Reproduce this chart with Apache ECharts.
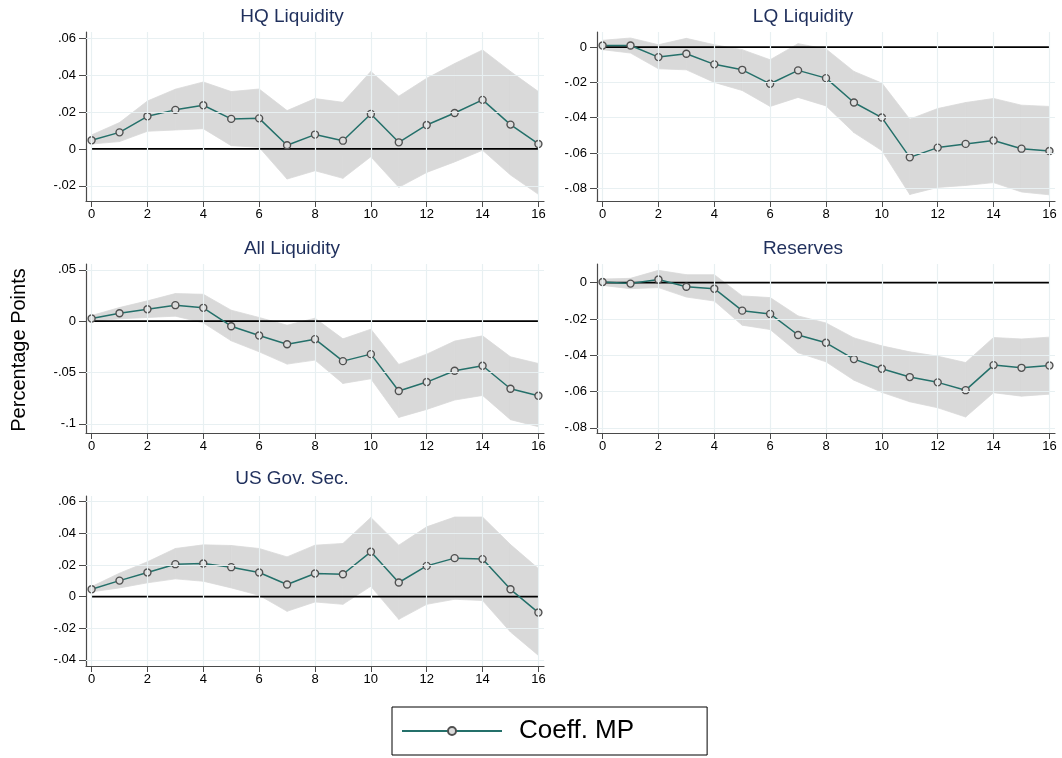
<!DOCTYPE html>
<html>
<head>
<meta charset="utf-8">
<script src="https://cdn.jsdelivr.net/npm/echarts@6/dist/echarts.min.js"></script>
<style>
html,body{margin:0;padding:0;background:#fff;}
#chart{width:1062px;height:758px;}
</style>
</head>
<body>
<div id="chart"></div>
<script>
// horizon (quarters)
var steps = [0,1,2,3,4,5,6,7,8,9,10,11,12,13,14,15,16];
var xTicks = [0,2,4,6,8,10,12,14,16];

// HQ Liquidity
var hqCoef  = [0.0047,0.009,0.0177,0.0212,0.0237,0.0163,0.0166,0.002,0.0078,0.0045,0.019,0.0036,0.013,0.0195,0.0266,0.0132,0.0027];
var hqUpper = [0.0076,0.0143,0.026,0.0324,0.0363,0.0311,0.0325,0.0208,0.0273,0.0253,0.042,0.0286,0.0383,0.0463,0.0537,0.042,0.0311];
var hqLower = [0.0027,0.004,0.0096,0.0103,0.011,0.0018,0.0009,-0.0163,-0.0118,-0.0159,-0.0042,-0.0208,-0.0127,-0.007,-0.0007,-0.0141,-0.0246];
var hqTicks = [-0.02,0,0.02,0.04,0.06];

// LQ Liquidity
var lqCoef  = [0.0009,0.0009,-0.0057,-0.0038,-0.0098,-0.0129,-0.0208,-0.0132,-0.0176,-0.0314,-0.0399,-0.0624,-0.0569,-0.0548,-0.0529,-0.0575,-0.0588];
var lqUpper = [0.0038,0.0051,0.0013,0.0049,0.0013,-0.0015,-0.0072,0.0019,-0.0011,-0.0138,-0.0204,-0.0408,-0.0348,-0.0314,-0.0291,-0.0329,-0.0336];
var lqLower = [-0.0015,-0.0034,-0.0123,-0.0129,-0.02,-0.0246,-0.0336,-0.0285,-0.0333,-0.0484,-0.0586,-0.0834,-0.0794,-0.0783,-0.0767,-0.082,-0.0836];
var lqTicks = [-0.08,-0.06,-0.04,-0.02,0];

// All Liquidity
var allCoef  = [0.0026,0.0078,0.0117,0.0156,0.013,-0.0049,-0.0139,-0.0224,-0.0175,-0.0389,-0.0321,-0.068,-0.0593,-0.0483,-0.0434,-0.0658,-0.0726];
var allUpper = [0.0055,0.0133,0.0198,0.0269,0.0262,0.0107,0.0036,-0.0039,0.0029,-0.0172,-0.0078,-0.0421,-0.0321,-0.0194,-0.0143,-0.0347,-0.0412];
var allLower = [0,0.0023,0.0036,0.0049,-0.0016,-0.0191,-0.0298,-0.0418,-0.0379,-0.0606,-0.0561,-0.0937,-0.0859,-0.0768,-0.0723,-0.0959,-0.1027];
var allTicks = [-0.1,-0.05,0,0.05];

// Reserves
var resCoef  = [0.0004,-0.0005,0.0018,-0.0022,-0.0033,-0.0154,-0.0172,-0.0288,-0.0331,-0.0421,-0.0474,-0.052,-0.0549,-0.0592,-0.0454,-0.0469,-0.0456];
var resUpper = [0.002,0.0024,0.0068,0.0044,0.0044,-0.0073,-0.0082,-0.0183,-0.0222,-0.0304,-0.0348,-0.0381,-0.0405,-0.044,-0.0302,-0.031,-0.03];
var resLower = [-0.0015,-0.0033,-0.0027,-0.0079,-0.0101,-0.0234,-0.0258,-0.0386,-0.0436,-0.0537,-0.0604,-0.0656,-0.0689,-0.074,-0.0606,-0.0625,-0.0614];
var resTicks = [-0.08,-0.06,-0.04,-0.02,0];

// US Gov. Sec.
var usCoef  = [0.0046,0.0101,0.0152,0.0205,0.0209,0.0186,0.0152,0.0076,0.0146,0.0141,0.0283,0.0089,0.0194,0.0243,0.0237,0.0046,-0.0101];
var usUpper = [0.0063,0.0148,0.022,0.0304,0.0327,0.0323,0.0304,0.0251,0.0325,0.0336,0.05,0.0325,0.0441,0.0503,0.0503,0.0329,0.0177];
var usLower = [0.003,0.0055,0.0087,0.0112,0.0097,0.0055,0.0008,-0.0093,-0.0034,-0.0049,0.0065,-0.0144,-0.0049,-0.0017,-0.0025,-0.0224,-0.0372];
var usTicks = [-0.04,-0.02,0,0.02,0.04,0.06];

var FONT = 'Liberation Sans, Arial, Helvetica, sans-serif';
var lineCol = '#24706a', bandCol = '#d9d9d9', gridCol = '#e8f0f2', axisCol = '#4a4a4a';

var panels = [
  {tit:'HQ Liquidity',  coef:hqCoef,  up:hqUpper,  lo:hqLower,  ticks:hqTicks,  ymin:-0.0282, ymax:0.0634, box:[86,32,458,169],  tx:292, ty:17},
  {tit:'LQ Liquidity',  coef:lqCoef,  up:lqUpper,  lo:lqLower,  ticks:lqTicks,  ymin:-0.0871, ymax:0.0085, box:[597,32,458,169], tx:803, ty:17},
  {tit:'All Liquidity', coef:allCoef, up:allUpper, lo:allLower, ticks:allTicks, ymin:-0.1089, ymax:0.0557, box:[86,264,458,169], tx:292, ty:249},
  {tit:'Reserves',      coef:resCoef, up:resUpper, lo:resLower, ticks:resTicks, ymin:-0.0828, ymax:0.0103, box:[597,264,458,169],tx:803, ty:249},
  {tit:'US Gov. Sec.',  coef:usCoef,  up:usUpper,  lo:usLower,  ticks:usTicks,  ymin:-0.0439, ymax:0.0636, box:[86,496,458,170], tx:292, ty:479}
];

function fmt(v){
  if (Math.abs(v) < 1e-9) return '0';
  return String(+v.toFixed(3)).replace('0.', '.');
}
function pairs(ys){ return steps.map(function(s,i){ return [s, ys[i]]; }); }

// band: one quad per step, from point i to i+1
function bandItem(params, api){
  var a = api.coord([api.value(0), api.value(1)]);
  var b = api.coord([api.value(3), api.value(4)]);
  var c = api.coord([api.value(3), api.value(5)]);
  var d = api.coord([api.value(0), api.value(2)]);
  return {
    type:'polygon',
    shape:{points:[a,b,c,d]},
    style:{fill:bandCol, stroke:bandCol, lineWidth:0.8}
  };
}

var grids = [], xAxes = [], yAxes = [], series = [], graphics = [];

panels.forEach(function(p, k){
  grids.push({left:p.box[0], top:p.box[1], width:p.box[2], height:p.box[3]});
  xAxes.push({
    type:'value', gridIndex:k, min:-0.2, max:16.2,
    axisLine:{show:true, onZero:false, lineStyle:{color:axisCol, width:1.2}},
    axisTick:{show:true, length:6, lineStyle:{color:axisCol}, customValues:xTicks},
    axisLabel:{color:'#000', fontSize:13, fontFamily:FONT, margin:7, customValues:xTicks},
    splitLine:{show:false}
  });
  yAxes.push({
    type:'value', gridIndex:k, min:p.ymin, max:p.ymax,
    axisLine:{show:true, onZero:false, lineStyle:{color:axisCol, width:1.2}},
    axisTick:{show:true, length:7, lineStyle:{color:axisCol}, customValues:p.ticks},
    axisLabel:{color:'#000', fontSize:13, fontFamily:FONT, margin:10, customValues:p.ticks, formatter:fmt},
    splitLine:{show:false}
  });
  var bandData = [];
  for (var i = 0; i < steps.length - 1; i++) {
    bandData.push([steps[i], p.lo[i], p.up[i], steps[i+1], p.lo[i+1], p.up[i+1]]);
  }
  // grid lines
  series.push({
    type:'line', name:'grid'+k, xAxisIndex:k, yAxisIndex:k, data:[], z:1, silent:true,
    markLine:{
      symbol:'none', silent:true, animation:false, label:{show:false},
      lineStyle:{color:gridCol, width:1.2, type:'solid'},
      data: p.ticks.filter(function(t){ return t !== 0; }).map(function(t){ return {yAxis:t}; })
        .concat(xTicks.map(function(t){ return {xAxis:t}; }))
    }
  });
  // confidence band
  series.push({
    type:'custom', name:'band'+k, xAxisIndex:k, yAxisIndex:k, data:bandData,
    renderItem:bandItem, encode:{x:[0,3], y:[1,2,4,5]}, z:2, silent:true, clip:true
  });
  // zero line
  series.push({
    type:'line', name:'zero'+k, xAxisIndex:k, yAxisIndex:k, data:[[0,0],[16,0]],
    symbol:'none', lineStyle:{color:'#000', width:1.8}, z:3, silent:true
  });
  // coefficient
  series.push({
    type:'line', name:'Coeff. MP', xAxisIndex:k, yAxisIndex:k, data:pairs(p.coef),
    symbol:'circle', symbolSize:7, showSymbol:true,
    lineStyle:{color:lineCol, width:1.5},
    itemStyle:{color:'#dcdcdc', borderColor:'#505050', borderWidth:1.4},
    z:4
  });
  graphics.push({
    type:'text', x:p.tx, y:p.ty,
    style:{text:p.tit, align:'center', verticalAlign:'middle', fontSize:19, fontFamily:FONT, fill:'#1f2f5c'}
  });
});

graphics.push({
  type:'text', x:19, y:350, rotation:Math.PI/2,
  style:{text:'Percentage Points', align:'center', verticalAlign:'middle', fontSize:20, fontFamily:FONT, fill:'#000'}
});

var myChart = echarts.init(document.getElementById('chart'), null, {renderer:'canvas'});
var option = {
  backgroundColor:'#fff',
  animation:false,
  grid:grids,
  xAxis:xAxes,
  yAxis:yAxes,
  legend:{
    data:['Coeff. MP'], left:392, top:707,
    itemWidth:100, itemHeight:10, itemGap:10,
    borderColor:'#000', borderWidth:1, padding:[11,73,11,9],
    textStyle:{fontSize:26, fontFamily:FONT, color:'#000', padding:[0,0,0,12]},
    selectedMode:false
  },
  graphic:graphics,
  series:series
};
myChart.setOption(option);
</script>
</body>
</html>
